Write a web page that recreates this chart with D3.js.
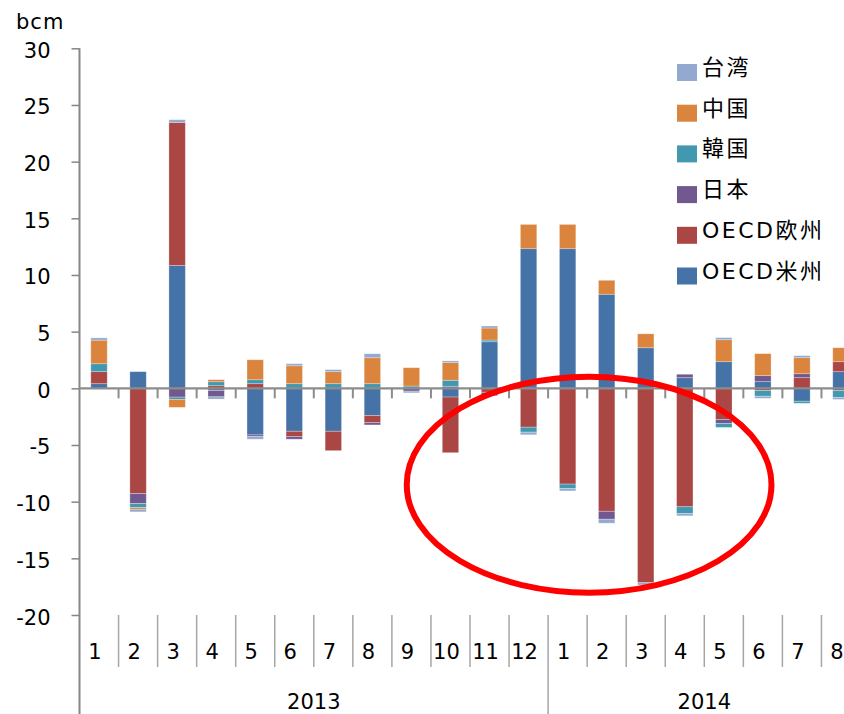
<!DOCTYPE html>
<html>
<head>
<meta charset="utf-8">
<script src="https://cdn.jsdelivr.net/npm/d3@7"></script>
<style>
  html, body { margin: 0; padding: 0; background: #fff; }
  svg { display: block; }
  text { font-family: "DejaVu Sans", "Noto Sans CJK JP", sans-serif; fill: #000; }
</style>
</head>
<body>
<svg id="chart" width="844" height="714"></svg>
<script>
// ---------- data ----------
const months = ["1","2","3","4","5","6","7","8","9","10","11","12","1","2","3","4","5","6","7","8"];
const years = ["2013", "2014"];
const yearMonthCounts = [12, 8];
const seriesNames = ["OECD米州", "OECD欧州", "日本", "韓国", "中国", "台湾"];
const seriesColors = ["#4572A7", "#AA4643", "#71588F", "#4198AF", "#DB843D", "#93A9CF"];

const oecdAmericas = [0.41, 1.47, 10.85, -0.20, -4.11, -3.79, -3.79, -2.41, 0.00, -0.77, 4.11, 12.32, 12.32, 8.30, 3.58, 0.94, 2.35, 0.59, -1.14, 1.47];
const oecdEurope   = [1.06, -9.29, 12.61, 0.23, 0.41, -0.47, -1.71, -0.62, 0.00, -4.91, -0.35, -3.43, -8.45, -10.85, -17.15, -10.45, -2.75, -0.20, 0.94, 0.88];
const japan        = [0.00, -0.88, -0.78, -0.55, -0.15, -0.23, 0.00, -0.20, -0.25, 0.18, -0.30, 0.00, 0.00, -0.70, 0.00, 0.30, -0.35, 0.53, 0.35, -0.20];
const korea        = [0.70, -0.35, -0.20, 0.35, 0.35, 0.41, 0.41, 0.41, 0.20, 0.53, 0.15, -0.44, -0.40, 0.00, 0.00, -0.60, -0.35, -0.50, -0.18, -0.60];
const china        = [2.08, -0.15, -0.70, 0.18, 1.76, 1.58, 1.06, 2.29, 1.62, 1.56, 1.06, 2.14, 2.14, 1.23, 1.23, 0.00, 1.94, 1.94, 1.41, 1.23];
const taiwan       = [0.20, -0.23, 0.24, -0.20, -0.23, 0.18, 0.18, 0.35, -0.15, 0.15, 0.18, -0.23, -0.20, -0.35, -0.20, -0.20, 0.18, -0.18, 0.18, -0.18];

const yTicks = [-20, -15, -10, -5, 0, 5, 10, 15, 20, 25, 30];
const yUnit = "bcm";

// highlight annotation (in slot-index and value units)
const highlight = { centerSlot: 13.05, centerValue: -8.5, radiusSlots: 4.67, radiusValue: 9.53 };

// ---------- build ----------
const seriesValues = [oecdAmericas, oecdEurope, japan, korea, china, taiwan];
const n = months.length;
const rows = d3.range(n).map(i => {
  const r = { idx: i };
  seriesNames.forEach((s, k) => r[s] = seriesValues[k][i]);
  return r;
});

const svg = d3.select("#chart");
const x0 = 79.5, stepPx = 39.05;
const x = d3.scaleBand().domain(d3.range(n)).range([x0, x0 + n * stepPx])
  .paddingInner(0.58).paddingOuter(0.29);
const slot = d3.scaleLinear().domain([0, n]).range(x.range());
const y = d3.scaleLinear().domain([-20, 30]).range([615, 48.3]);

const stack = d3.stack().keys(seriesNames).offset(d3.stackOffsetDiverging);
const stacked = stack(rows);

// bars
svg.append("g").selectAll("g").data(stacked).join("g")
  .attr("fill", (d, k) => seriesColors[k])
  .selectAll("rect").data(d => d).join("rect")
  .attr("x", d => x(d.data.idx))
  .attr("width", x.bandwidth())
  .attr("y", d => y(Math.max(d[0], d[1])))
  .attr("height", d => Math.abs(y(d[0]) - y(d[1])))
  .attr("stroke", "rgba(255,255,255,0.35)")
  .attr("stroke-width", 0.8);

// y axis
const yAxis = d3.axisLeft(y).tickValues(yTicks).tickFormat(d => String(d))
  .tickSize(8).tickSizeOuter(0).tickPadding(0);
const gy = svg.append("g").attr("transform", `translate(${x0},0)`).call(yAxis);
gy.select(".domain").remove();
gy.selectAll(".tick line").attr("stroke", "#868686").attr("stroke-width", 1.5);
gy.selectAll(".tick text")
  .attr("x", -29).attr("dy", null).attr("y", 9)
  .style("font-size", "21px").style("font-family", "DejaVu Sans").attr("fill", "#000");
svg.append("line").attr("x1", x0).attr("x2", x0).attr("y1", y(30)).attr("y2", 714)
  .attr("stroke", "#868686").attr("stroke-width", 2);

svg.append("text").attr("x", 16).attr("y", 29).style("font-size", "21px")
  .style("letter-spacing", "1px").text(yUnit);

// zero line with category ticks
svg.append("line").attr("x1", x0).attr("x2", slot(n)).attr("y1", y(0)).attr("y2", y(0))
  .attr("stroke", "#8c8c8c").attr("stroke-width", 2.2);
svg.append("g").selectAll("line").data(d3.range(1, n + 1)).join("line")
  .attr("x1", i => slot(i)).attr("x2", i => slot(i))
  .attr("y1", y(0)).attr("y2", y(0) + 10)
  .attr("stroke", "#8c8c8c").attr("stroke-width", 2);

// category labels (months)
const catTop = y(-20), catMid = 667;
const yearBounds = [0];
yearMonthCounts.forEach(c => yearBounds.push(yearBounds[yearBounds.length - 1] + c));
svg.append("g").selectAll("line").data(d3.range(1, n + 1).filter(i => !yearBounds.includes(i))).join("line")
  .attr("x1", i => slot(i)).attr("x2", i => slot(i))
  .attr("y1", catTop).attr("y2", catMid)
  .attr("stroke", "#a6a6a6").attr("stroke-width", 1.5);
svg.append("g").selectAll("line").data(yearBounds.slice(1)).join("line")
  .attr("x1", i => slot(i)).attr("x2", i => slot(i))
  .attr("y1", catTop).attr("y2", 714)
  .attr("stroke", "#a6a6a6").attr("stroke-width", 1.5);
svg.append("g").selectAll("text").data(months).join("text")
  .attr("x", (m, i) => x(i) + x.bandwidth() / 2 - 4)
  .attr("y", 659).attr("text-anchor", "middle").style("font-size", "21px")
  .text(d => d);
svg.append("g").selectAll("text").data(years).join("text")
  .attr("x", (yr, k) => (slot(yearBounds[k]) + slot(yearBounds[k + 1])) / 2)
  .attr("y", 709).attr("text-anchor", "middle").style("font-size", "21px")
  .text(d => d);

// legend (reverse order, top = 台湾)
const legendItems = seriesNames.map((s, k) => ({ name: s, color: seriesColors[k] })).reverse();
const lg = svg.append("g").selectAll("g").data(legendItems).join("g")
  .attr("transform", (d, i) => `translate(677, ${64 + i * 40.7})`);
lg.append("rect").attr("width", 20).attr("height", 17).attr("fill", d => d.color);
lg.append("text").attr("x", 25).attr("y", 11).style("font-size", "22px")
  .style("letter-spacing", "2.5px").text(d => d.name);

// highlight ellipse
svg.append("ellipse")
  .attr("cx", slot(highlight.centerSlot))
  .attr("cy", y(highlight.centerValue))
  .attr("rx", slot(highlight.radiusSlots) - slot(0))
  .attr("ry", y(0) - y(highlight.radiusValue))
  .attr("fill", "none").attr("stroke", "#ff0000").attr("stroke-width", 6);
</script>
</body>
</html>
